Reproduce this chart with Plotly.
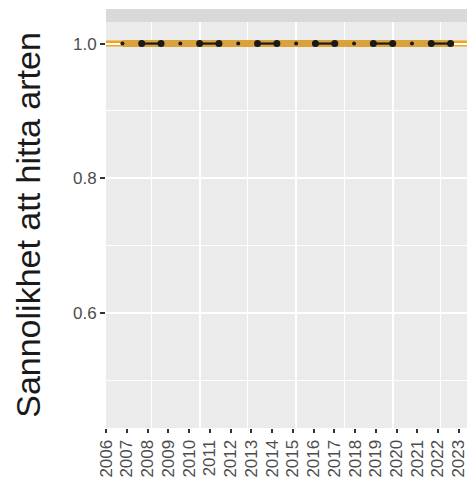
import plotly.graph_objects as go

# ---- data ----
years = [2006, 2007, 2008, 2009, 2010, 2011, 2012, 2013, 2014,
         2015, 2016, 2017, 2018, 2019, 2020, 2021, 2022, 2023]
prob = [1.0, 1.0, 1.0, 1.0, 1.0, 1.0, 1.0, 1.0, 1.0,
        1.0, 1.0, 1.0, 1.0, 1.0, 1.0, 1.0, 1.0, 1.0]
ref_level = 1.0
y_ticks = [0.6, 0.8, 1.0]
y_tick_labels = ["0.6", "0.8", "1.0"]
x_tick_labels = [f"{y}" for y in years]
y_title = "Sannolikhet att hitta arten"

FONT = "Liberation Sans, Arial, sans-serif"

fig = go.Figure()

# darker band along the data span
fig.add_trace(go.Scatter(x=years, y=prob, mode="lines",
                         line=dict(color="#D9A23A", width=7),
                         hoverinfo="skip", showlegend=False))

# black connected pairs
seg_x, seg_y = [], []
for i in range(1, len(years) - 1, 3):
    seg_x += [years[i], years[i + 1], None]
    seg_y += [prob[i], prob[i + 1], None]
fig.add_trace(go.Scatter(x=seg_x, y=seg_y, mode="lines+markers",
                         line=dict(color="#1a1a1a", width=2.2),
                         marker=dict(color="#1a1a1a", size=7),
                         hoverinfo="skip", showlegend=False))

# isolated points
iso_x = years[0::3]
iso_y = prob[0::3]
fig.add_trace(go.Scatter(x=iso_x, y=iso_y, mode="markers",
                         marker=dict(color="#1a1a1a", size=4),
                         hoverinfo="skip", showlegend=False))

# invisible trace for the label axis
fig.add_trace(go.Scatter(x=years, y=prob, mode="markers", xaxis="x2",
                         marker=dict(opacity=0), hoverinfo="skip",
                         showlegend=False))

# reference line across panel
fig.add_shape(type="line", xref="paper", x0=0, x1=1, yref="y",
              y0=ref_level, y1=ref_level, layer="between",
              line=dict(color="#F2A21E", width=6))

# facet strip
fig.add_shape(type="rect", xref="paper", yref="paper", x0=0, x1=1,
              y0=1.0, y1=1.0 + 13 / 406, fillcolor="#D9D9D9",
              line=dict(width=0), layer="above")

fig.update_layout(
    width=468, height=478,
    margin=dict(l=106, r=1, t=22, b=50),
    paper_bgcolor="white",
    plot_bgcolor="#EBEBEB",
    font=dict(family=FONT, color="#4D4D4D"),
    xaxis=dict(
        range=[2005.15, 2023.85], automargin=False,
        showticklabels=False, ticks="",
        showgrid=True, gridcolor="white", gridwidth=1.6,
        tick0=2010, dtick=5,
        minor=dict(showgrid=True, gridcolor="white", gridwidth=1.2,
                   tick0=2007.5, dtick=2.5),
        zeroline=False, showline=False,
    ),
    xaxis2=dict(
        overlaying="x", anchor="y", side="bottom", automargin=False,
        range=[2005.99, 2023.4],
        tickmode="array", tickvals=years, ticktext=x_tick_labels,
        tickangle=-90, ticks="outside", ticklen=4, tickwidth=1.5,
        tickcolor="#333333", ticklabeloverflow="allow",
        tickfont=dict(size=17, color="#4D4D4D", family=FONT),
        showgrid=False, zeroline=False, showline=False,
    ),
    yaxis=dict(
        range=[0.4295, 1.032], automargin=False,
        tickmode="array", tickvals=y_ticks, ticktext=y_tick_labels,
        ticks="outside", ticklen=5, tickwidth=2, tickcolor="#333333",
        tickfont=dict(size=17, color="#4D4D4D", family=FONT),
        showgrid=True, gridcolor="white", gridwidth=1.6,
        minor=dict(showgrid=True, gridcolor="white", gridwidth=1.2,
                   tickvals=[0.5, 0.7, 0.9]),
        zeroline=False, showline=False,
        title=dict(text=y_title, standoff=22,
                   font=dict(size=34, color="#1a1a1a", family=FONT)),
    ),
)

fig.write_html("out.html")
